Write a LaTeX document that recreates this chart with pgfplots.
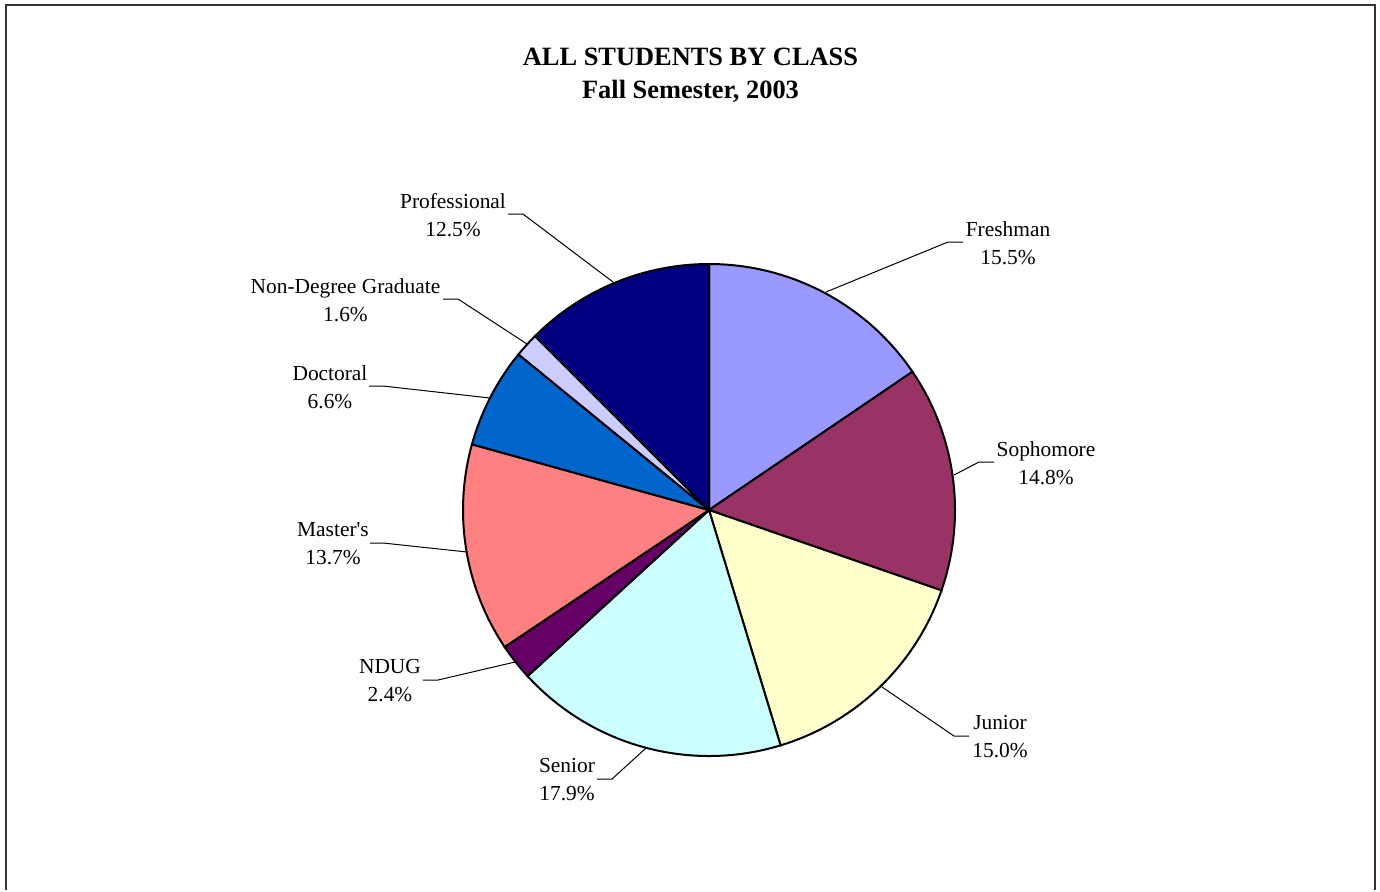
\documentclass[border=0pt]{standalone}
\usepackage{pgfplots}
\pgfplotsset{compat=1.18}
\usepackage{fontspec}
\setmainfont{Liberation Serif}
\definecolor{cFresh}{HTML}{9999FF}
\definecolor{cSoph}{HTML}{993366}
\definecolor{cJun}{HTML}{FFFFCC}
\definecolor{cSen}{HTML}{CCFFFF}
\definecolor{cNDUG}{HTML}{660066}
\definecolor{cMas}{HTML}{FF8080}
\definecolor{cDoc}{HTML}{0066CC}
\definecolor{cNDG}{HTML}{CCCCFF}
\definecolor{cProf}{HTML}{000080}
\newcommand\lab{\fontsize{10.7}{14}\selectfont}
\newcommand\ttl{\fontsize{13.2}{16.5}\selectfont\bfseries}
% pie centre (709,510), radius 246, in pixel units of the axis
\gdef\cum{0}
\newcommand\slice[2]{%
  \pgfmathsetmacro\aA{90-3.6*(\cum+#2)}%
  \pgfmathsetmacro\aB{90-3.6*\cum}%
  \edef\doit{\noexpand\addplot[draw=black, line width=1pt, fill=#1, domain=\aA:\aB, samples=90, variable=\noexpand\t] ({709+246*cos(\noexpand\t)},{510-246*sin(\noexpand\t)}) -- (709,510) -- cycle;}%
  \doit
  \pgfmathparse{\cum+#2}\xdef\cum{\pgfmathresult}%
}
\begin{document}
\begin{tikzpicture}
\begin{axis}[
  x=0.5pt, y=0.5pt,
  xmin=0, xmax=1380, ymin=0, ymax=890,
  y dir=reverse,
  hide axis, clip=false,
  anchor=south west, at={(0,0)},
]
\path (0,0) rectangle (1380,890);
\draw[line width=1pt, black!80] (6,890) -- (6,5) -- (1375,5) -- (1375,890);
% data: percentages, clockwise from 12 o'clock
\slice{cFresh}{15.5}
\slice{cSoph}{14.8}
\slice{cJun}{15.0}
\slice{cSen}{17.9}
\slice{cNDUG}{2.4}
\slice{cMas}{13.7}
\slice{cDoc}{6.6}
\slice{cNDG}{1.6}
\slice{cProf}{12.5}
% leader lines
\addplot[black, line width=0.5pt, mark=none] coordinates {(963,242) (948,242) (826,292)};
\addplot[black, line width=0.5pt, mark=none] coordinates {(994,462) (979,462) (954,475)};
\addplot[black, line width=0.5pt, mark=none] coordinates {(969,736) (954,736) (882,687)};
\addplot[black, line width=0.5pt, mark=none] coordinates {(597,779) (612,779) (646,748)};
\addplot[black, line width=0.5pt, mark=none] coordinates {(423,680) (438,680) (515,662)};
\addplot[black, line width=0.5pt, mark=none] coordinates {(370,543) (383,543) (467,552)};
\addplot[black, line width=0.5pt, mark=none] coordinates {(369,386) (383,386) (490,398)};
\addplot[black, line width=0.5pt, mark=none] coordinates {(443,299) (458,299) (527,344)};
\addplot[black, line width=0.5pt, mark=none] coordinates {(508,214) (523,214) (613,282)};
% labels
\node[align=center, font=\lab] at (1008,243) {Freshman\\15.5\%};
\node[align=center, font=\lab] at (1046,463) {Sophomore\\14.8\%};
\node[align=center, font=\lab] at (1000,737) {Junior\\15.0\%};
\node[align=center, font=\lab] at (567,780) {Senior\\17.9\%};
\node[align=center, font=\lab] at (390,681) {NDUG\\2.4\%};
\node[align=center, font=\lab] at (333,544) {Master\textquotesingle s\\13.7\%};
\node[align=center, font=\lab] at (330,387) {Doctoral\\6.6\%};
\node[align=center, font=\lab] at (345.5,300) {Non-Degree Graduate\\1.6\%};
\node[align=center, font=\lab] at (453,215) {Professional\\12.5\%};
\node[align=center, font=\ttl] at (690.5,75) {ALL STUDENTS BY CLASS\\Fall Semester, 2003};
\end{axis}
\end{tikzpicture}
\end{document}
